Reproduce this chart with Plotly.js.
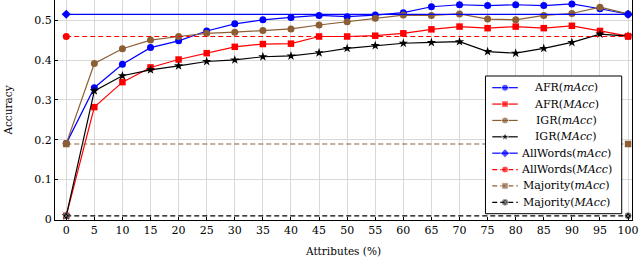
<!DOCTYPE html>
<html><head><meta charset="utf-8">
<script src="https://cdn.plot.ly/plotly-3.0.1.min.js"></script>
<style>body{margin:0;padding:0;background:#fff}#chart{width:640px;height:257px}</style>
</head><body><div id="chart"></div>
<script>
const attributes = [0,5,10,15,20,25,30,35,40,45,50,55,60,65,70,75,80,85,90,95,100];
const afrMinor = [0.190,0.331,0.390,0.432,0.449,0.474,0.492,0.502,0.508,0.513,0.510,0.514,0.520,0.535,0.540,0.538,0.540,0.538,0.542,0.530,0.516];
const afrMacro = [0.008,0.282,0.345,0.382,0.402,0.418,0.434,0.441,0.442,0.460,0.460,0.462,0.468,0.478,0.485,0.481,0.485,0.481,0.487,0.474,0.461];
const igrMinor = [0.190,0.392,0.429,0.451,0.460,0.468,0.471,0.475,0.479,0.489,0.497,0.506,0.514,0.513,0.517,0.504,0.502,0.513,0.518,0.534,0.517];
const igrMacro = [0.008,0.323,0.361,0.376,0.386,0.397,0.401,0.409,0.411,0.419,0.430,0.437,0.443,0.445,0.447,0.422,0.418,0.430,0.445,0.466,0.461];
const baselineX = [0,100];
const allWordsMinor = [0.516,0.516];
const allWordsMacro = [0.460,0.460];
const majorityMinor = [0.189,0.189];
const majorityMacro = [0.008,0.008];
const seriesNames = ['AFR(<i>mAcc</i>)','AFR(<i>MAcc</i>)','IGR(<i>mAcc</i>)','IGR(<i>MAcc</i>)',
  'AllWords(<i>mAcc</i>)','AllWords(<i>MAcc</i>)','Majority(<i>mAcc</i>)','Majority(<i>MAcc</i>)'];
const xTicks = [0,5,10,15,20,25,30,35,40,45,50,55,60,65,70,75,80,85,90,95,100];
const yTicks = [0,0.1,0.2,0.3,0.4,0.5];
const yTickText = ['0','0.1','0.2','0.3','0.4','0.5'];

const BLUE='#0000ff', RED='#ff0000', BROWN='#8b5e34', BLACK='#000000';
const DASH='5px,3px';
const styles = [
  {line:{color:BLUE,width:1.2},marker:{symbol:'circle',size:7,color:BLUE}},
  {line:{color:RED,width:1.2},marker:{symbol:'square',size:6.5,color:RED}},
  {line:{color:BROWN,width:1.2},marker:{symbol:'circle',size:7,color:BROWN}},
  {line:{color:BLACK,width:1.2},marker:{symbol:'star',size:7,color:BLACK}},
  {line:{color:BLUE,width:1.2},marker:{symbol:'diamond',size:7,color:BLUE}},
  {line:{color:RED,width:1.2,dash:DASH},marker:{symbol:'circle',size:7,color:RED}},
  {line:{color:BROWN,width:1.2,dash:DASH},marker:{symbol:'square',size:6.5,color:BROWN}},
  {line:{color:BLACK,width:1.2,dash:DASH},marker:{symbol:'circle-x',size:6,color:BLACK,line:{color:'#888',width:0.8}}}
];
const seriesX = [attributes,attributes,attributes,attributes,baselineX,baselineX,baselineX,baselineX];
const seriesY = [afrMinor,afrMacro,igrMinor,igrMacro,allWordsMinor,allWordsMacro,majorityMinor,majorityMacro];

const traces = seriesY.map((y,i)=>Object.assign({x:seriesX[i],y:y,name:seriesNames[i],mode:'lines+markers',showlegend:false,
  xaxis:'x',yaxis:'y'},styles[i]));

// custom legend drawn on a pixel-mapped overlay axis
const PLOT_L=55, PLOT_R=632.3, PLOT_T=0, PLOT_B=220;
const LEG={x0:485.7,x1:622,y0:76,y1:213.7,row0:87.7,step:16.37,s0:492.5,s1:518,textX:566.5};
traces.push({x:[LEG.x0,LEG.x1,LEG.x1,LEG.x0,LEG.x0],y:[LEG.y0,LEG.y0,LEG.y1,LEG.y1,LEG.y0],mode:'lines',fill:'toself',
  fillcolor:'#fff',line:{color:'#000',width:1},xaxis:'x2',yaxis:'y2',showlegend:false,hoverinfo:'skip'});
const annotations=[];
seriesNames.forEach((n,i)=>{
  const yy=LEG.row0+i*LEG.step;
  const t=Object.assign({x:[LEG.s0,(LEG.s0+LEG.s1)/2,LEG.s1],y:[yy,yy,yy],mode:'lines+markers',xaxis:'x2',yaxis:'y2',showlegend:false,
    hoverinfo:'skip'},styles[i]);
  t.marker=Object.assign({},styles[i].marker,{size:[0,styles[i].marker.size,0]});
  traces.push(t);
  annotations.push({x:LEG.textX,y:yy,xref:'x2',yref:'y2',text:n,showarrow:false,xanchor:'center',yanchor:'middle',
    font:{family:'DejaVu Serif, serif',size:11,color:'#000'}});
});

const F='DejaVu Serif, serif';
const axCommon={showgrid:true,gridcolor:'#d9d9d9',gridwidth:1,zeroline:false,showline:true,linecolor:'#000',linewidth:1,
  mirror:true,ticks:'inside',ticklen:3,tickcolor:'#000',automargin:false,tickfont:{family:F,size:11}};
const layout={
  width:640,height:257,
  margin:{l:PLOT_L,r:640-PLOT_R,t:PLOT_T,b:257-PLOT_B,pad:0},
  paper_bgcolor:'#fff',plot_bgcolor:'#fff',
  font:{family:F,size:11,color:'#000'},
  showlegend:false,
  xaxis:Object.assign({},axCommon,{range:[-2.0,100.7],tickvals:xTicks,ticktext:xTicks.map(String),
    title:{text:'Attributes (%)',font:{family:F,size:10.5},standoff:11}}),
  yaxis:Object.assign({},axCommon,{range:[-0.0025,0.552],tickvals:yTicks,ticktext:yTickText,
    title:{text:'Accuracy',font:{family:F,size:10.5},standoff:19}}),
  xaxis2:{overlaying:'x',anchor:'y2',range:[PLOT_L,PLOT_R],visible:false,fixedrange:true},
  yaxis2:{overlaying:'y',anchor:'x2',range:[PLOT_B,PLOT_T],visible:false,fixedrange:true},
  annotations:annotations
};
Plotly.newPlot('chart',traces,layout,{displayModeBar:false,staticPlot:true});
</script></body></html>
